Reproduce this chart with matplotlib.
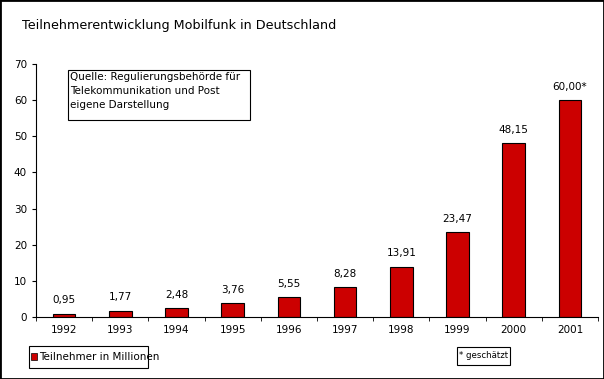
import matplotlib.pyplot as plt
import numpy as np

# Teilnehmer in Millionen
jahre = ["1992", "1993", "1994", "1995", "1996", "1997", "1998", "1999", "2000", "2001"]
teilnehmer = [0.95, 1.77, 2.48, 3.76, 5.55, 8.28, 13.91, 23.47, 48.15, 60.00]
beschriftung = ["0,95", "1,77", "2,48", "3,76", "5,55", "8,28", "13,91", "23,47", "48,15", "60,00*"]

plt.rcParams["font.family"] = ["DejaVu Sans"]

W, H = 604, 379
fig = plt.figure(figsize=(W / 100, H / 100), dpi=100)
ax = fig.add_axes([36 / W, 1 - 317 / H, 562 / W, 253 / H])

x = np.arange(len(jahre))
bars = ax.bar(x, teilnehmer, width=0.4, color="#cc0000", edgecolor="black", linewidth=0.8)

for b, txt in zip(bars, beschriftung):
    ax.annotate(txt, (b.get_x() + b.get_width() / 2, b.get_height()),
                xytext=(0, 6), textcoords="offset points",
                ha="center", va="bottom", fontsize=7.5)

ax.set_xlim(-0.5, len(jahre) - 0.5)
ax.set_ylim(0, 70)
ax.set_yticks(range(0, 71, 10))
ax.set_xticks(x)
ax.set_xticklabels(jahre)
ax.set_xticks(np.arange(-0.5, len(jahre), 1), minor=True)
ax.tick_params(axis="x", which="major", length=0, labelsize=7.5, pad=6)
ax.tick_params(axis="x", which="minor", length=3, direction="out")
ax.tick_params(axis="y", length=3, labelsize=7.5)
for s in ["top", "right"]:
    ax.spines[s].set_visible(False)


def box(x0, y0, x1, y1, **kw):
    # rectangle in pixel coordinates (origin top left)
    r = plt.Rectangle((x0 / W, 1 - y1 / H), (x1 - x0) / W, (y1 - y0) / H,
                      transform=fig.transFigure, linewidth=kw.pop("lw", 0.8), **kw)
    fig.patches.append(r)


fig.text(22 / W, 1 - 25 / H, "Teilnehmerentwicklung Mobilfunk in Deutschland",
         fontsize=9.2, va="center", ha="left")

box(68, 70, 250, 120, facecolor="white", edgecolor="black")
fig.text(70 / W, 1 - 72 / H,
         "Quelle: Regulierungsbehörde für\nTelekommunikation und Post\neigene Darstellung",
         fontsize=7.5, va="top", ha="left", linespacing=1.5)

box(29, 346, 148, 368, facecolor="white", edgecolor="black")
box(31, 353, 37, 360, facecolor="#cc0000", edgecolor="black", lw=0.5)
fig.text(39 / W, 1 - 357 / H, "Teilnehmer in Millionen", fontsize=7.5, va="center", ha="left")

box(457, 347, 510, 365, facecolor="white", edgecolor="black")
fig.text(459 / W, 1 - 355 / H, "* geschätzt", fontsize=6.2, va="center", ha="left")

box(0, 0, W, H, fill=False, edgecolor="black", lw=2)

fig.savefig("out.png", dpi=100)
